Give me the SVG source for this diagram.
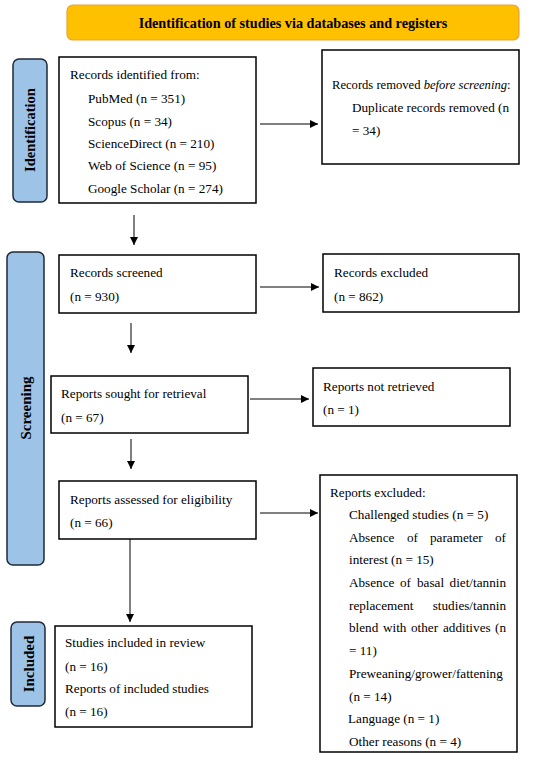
<svg xmlns="http://www.w3.org/2000/svg" width="550" height="758" viewBox="0 0 550 758">
<defs>
<marker id="ah" viewBox="0 0 10 10" refX="10" refY="5" markerWidth="8" markerHeight="8" markerUnits="userSpaceOnUse" orient="auto">
<path d="M0,0 L10,5 L0,10 z" fill="#000"/>
</marker>
<style>
.box{fill:#fff;stroke:#000;stroke-width:1.5}
.side{fill:#9DC3E6;stroke:#1F2A3A;stroke-width:1.5}
.t{font-family:"Liberation Serif","Times New Roman",serif;font-size:13.2px;fill:#000}
.sl{font-family:"Liberation Serif","Times New Roman",serif;font-size:15px;font-weight:bold;fill:#000}
.c{stroke:#000;stroke-width:1;fill:none;marker-end:url(#ah)}
</style>
</defs>
<rect width="550" height="758" fill="#fff"/>
<g id="title">
<rect x="67" y="5" width="452" height="35" rx="6" fill="#FFC000" stroke="#E8A33A" stroke-width="1.2"/>
<text class="sl" x="293" y="28" text-anchor="middle" style="font-size:14.2px">Identification of studies via databases and registers</text>
</g>
<g id="side-identification">
<rect class="side" x="13" y="59" width="34" height="143" rx="6"/>
<text class="sl" transform="translate(35,130) rotate(-90)" text-anchor="middle" style="font-size:14.5px">Identification</text>
</g>
<g id="side-screening">
<rect class="side" x="7" y="252" width="37" height="313" rx="6"/>
<text class="sl" transform="translate(31,408) rotate(-90)" text-anchor="middle">Screening</text>
</g>
<g id="side-included">
<rect class="side" x="11" y="622" width="34" height="84" rx="6"/>
<text class="sl" transform="translate(34,664) rotate(-90)" text-anchor="middle">Included</text>
</g>
<g id="records-identified">
<rect class="box" x="59" y="57" width="197" height="146"/>
<text class="t" x="70" y="79">Records identified from:</text>
<text class="t" x="88" y="103">PubMed (n = 351)</text>
<text class="t" x="88" y="126">Scopus (n = 34)</text>
<text class="t" x="88" y="148">ScienceDirect (n = 210)</text>
<text class="t" x="88" y="170">Web of Science (n = 95)</text>
<text class="t" x="88" y="193">Google Scholar (n = 274)</text>
</g>
<g id="records-removed">
<rect class="box" x="322" y="50" width="197" height="114"/>
<text class="t" x="332" y="89" style="font-size:12.6px">Records removed <tspan font-style="italic">before screening</tspan>:</text>
<text class="t" x="352" y="112">Duplicate records removed (n</text>
<text class="t" x="352" y="135">= 34)</text>
</g>
<g id="records-screened">
<rect class="box" x="59" y="255" width="197" height="58"/>
<text class="t" x="70" y="277">Records screened</text>
<text class="t" x="70" y="301">(n = 930)</text>
</g>
<g id="records-excluded">
<rect class="box" x="323" y="254" width="196" height="58"/>
<text class="t" x="334" y="277">Records excluded</text>
<text class="t" x="334" y="301">(n = 862)</text>
</g>
<g id="reports-sought">
<rect class="box" x="51" y="376" width="197" height="57"/>
<text class="t" x="61" y="398">Reports sought for retrieval</text>
<text class="t" x="61" y="422">(n = 67)</text>
</g>
<g id="reports-not-retrieved">
<rect class="box" x="313" y="368" width="197" height="58"/>
<text class="t" x="323" y="391">Reports not retrieved</text>
<text class="t" x="323" y="414">(n = 1)</text>
</g>
<g id="reports-assessed">
<rect class="box" x="59" y="481" width="197" height="58"/>
<text class="t" x="70" y="504">Reports assessed for eligibility</text>
<text class="t" x="70" y="527">(n = 66)</text>
</g>
<g id="reports-excluded">
<rect class="box" x="320" y="475" width="197" height="277"/>
<text class="t" x="330" y="497">Reports excluded:</text>
<text class="t" x="349" y="519">Challenged studies (n = 5)</text>
<text class="t" y="542"><tspan x="349">Absence</tspan><tspan x="407">of</tspan><tspan x="430">parameter</tspan><tspan x="506" text-anchor="end">of</tspan></text>
<text class="t" x="349" y="564">interest (n = 15)</text>
<text class="t" y="587"><tspan x="349">Absence</tspan><tspan x="400">of</tspan><tspan x="417">basal</tspan><tspan x="506" text-anchor="end">diet/tannin</tspan></text>
<text class="t" y="610"><tspan x="349">replacement</tspan><tspan x="506" text-anchor="end">studies/tannin</tspan></text>
<text class="t" y="632"><tspan x="349">blend</tspan><tspan x="383">with</tspan><tspan x="411">other</tspan><tspan x="443">additives</tspan><tspan x="506" text-anchor="end">(n</tspan></text>
<text class="t" x="349" y="655">= 11)</text>
<text class="t" x="349" y="678">Preweaning/grower/fattening</text>
<text class="t" x="349" y="701">(n = 14)</text>
<text class="t" x="348" y="723">Language (n = 1)</text>
<text class="t" x="349" y="746">Other reasons (n = 4)</text>
</g>
<g id="studies-included">
<rect class="box" x="55" y="626" width="197" height="101"/>
<text class="t" x="65" y="647">Studies included in review</text>
<text class="t" x="65" y="671">(n = 16)</text>
<text class="t" x="65" y="693">Reports of included studies</text>
<text class="t" x="65" y="716">(n = 16)</text>
</g>
<g id="connectors">
<line class="c" x1="260" y1="124" x2="318" y2="124"/>
<line class="c" x1="134" y1="215" x2="134" y2="245"/>
<line class="c" x1="260" y1="287" x2="319" y2="287"/>
<line class="c" x1="131" y1="323" x2="131" y2="353"/>
<line class="c" x1="250" y1="399" x2="309" y2="399"/>
<line class="c" x1="131" y1="439" x2="131" y2="469"/>
<line class="c" x1="260" y1="513" x2="318" y2="513"/>
<line class="c" x1="130" y1="539" x2="130" y2="622"/>
</g>
</svg>
